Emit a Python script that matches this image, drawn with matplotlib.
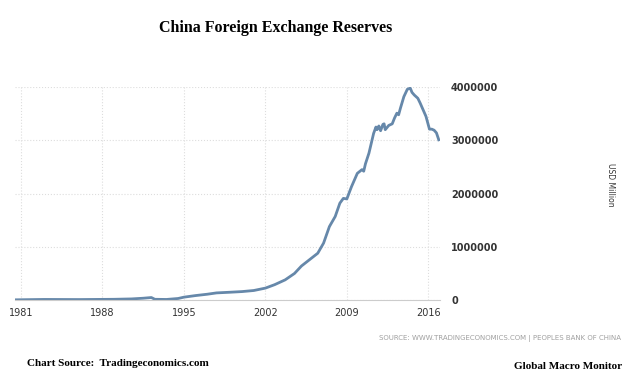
import matplotlib
matplotlib.use("Agg")
import matplotlib.pyplot as plt

# China FX reserves, USD million
years = [1980.5, 1983.0, 1986.0, 1989.0, 1990.5, 1991.5, 1992.2, 1992.5, 1993.5, 1994.5,
         1995.0, 1996.0, 1997.0, 1997.8, 1999.0, 2000.0, 2001.0, 2002.0, 2002.8, 2003.7,
         2004.5, 2005.1, 2005.8, 2006.5, 2007.0, 2007.5, 2008.0, 2008.4, 2008.7, 2009.0,
         2009.4, 2009.9, 2010.3, 2010.45, 2010.6, 2010.9, 2011.3, 2011.5, 2011.6, 2011.75,
         2011.9, 2012.1, 2012.2, 2012.3, 2012.6, 2012.9, 2013.1, 2013.3, 2013.45, 2013.6,
         2013.9, 2014.2, 2014.45, 2014.6, 2014.8, 2015.1, 2015.3, 2015.5, 2015.8, 2016.1,
         2016.3, 2016.5, 2016.7, 2016.9]
reserves = [5000, 12000, 10000, 15000, 22000, 35000, 48000, 15000, 12000, 30000,
            55000, 85000, 110000, 135000, 148000, 160000, 180000, 225000, 290000, 380000,
            500000, 640000, 760000, 880000, 1070000, 1380000, 1570000, 1820000, 1910000, 1900000,
            2130000, 2380000, 2450000, 2420000, 2560000, 2760000, 3130000, 3250000, 3200000, 3270000,
            3180000, 3300000, 3310000, 3200000, 3280000, 3310000, 3420000, 3510000, 3480000, 3600000,
            3820000, 3960000, 3980000, 3900000, 3850000, 3790000, 3700000, 3600000, 3450000, 3210000,
            3210000, 3190000, 3140000, 3010000]

x_ticks = [1981, 1988, 1995, 2002, 2009, 2016]
y_ticks = [0, 1000000, 2000000, 3000000, 4000000]

fig = plt.figure(figsize=(6.4, 3.77), dpi=100)
ax = fig.add_axes([0.0234, 0.204, 0.664, 0.565])

ax.plot(years, reserves, color="#6688aa", lw=2.0, solid_joinstyle="round")

ax.set_xlim(1980.48, 2017.0)
ax.set_ylim(0, 4000000)
ax.set_xticks(x_ticks)
ax.set_yticks(y_ticks)
ax.set_xticklabels([str(t) for t in x_ticks])
ax.set_yticklabels([str(t) for t in y_ticks])
ax.yaxis.tick_right()
ax.tick_params(axis="both", length=0, labelsize=7, colors="#333333")
ax.tick_params(axis="x", pad=6)
ax.tick_params(axis="y", pad=8)
for lab in ax.get_yticklabels():
    lab.set_fontweight("bold")
ax.grid(True, color="#dddddd", linestyle=":", lw=0.8)
for s in ["top", "right", "left"]:
    ax.spines[s].set_visible(False)
ax.spines["bottom"].set_color("#cccccc")
ax.spines["bottom"].set_linewidth(0.8)

fig.text(611 / 640, 1 - 185 / 377, "USD Million", rotation=270, ha="center", va="center",
         fontsize=5.5, color="#333333")

fig.text(0.43, 0.925, "China Foreign Exchange Reserves", ha="center", va="center",
         family="Liberation Serif", fontweight="bold", fontsize=11.5)
fig.text(0.97, 0.103, "SOURCE: WWW.TRADINGECONOMICS.COM | PEOPLES BANK OF CHINA",
         ha="right", va="center", fontsize=5, color="#a0a0a0")
fig.text(0.042, 0.035, "Chart Source:  Tradingeconomics.com", ha="left", va="center",
         family="Liberation Serif", fontweight="bold", fontsize=8)
fig.text(0.972, 0.027, "Global Macro Monitor", ha="right", va="center",
         family="Liberation Serif", fontweight="bold", fontsize=8)

fig.savefig("out.png", dpi=100)
